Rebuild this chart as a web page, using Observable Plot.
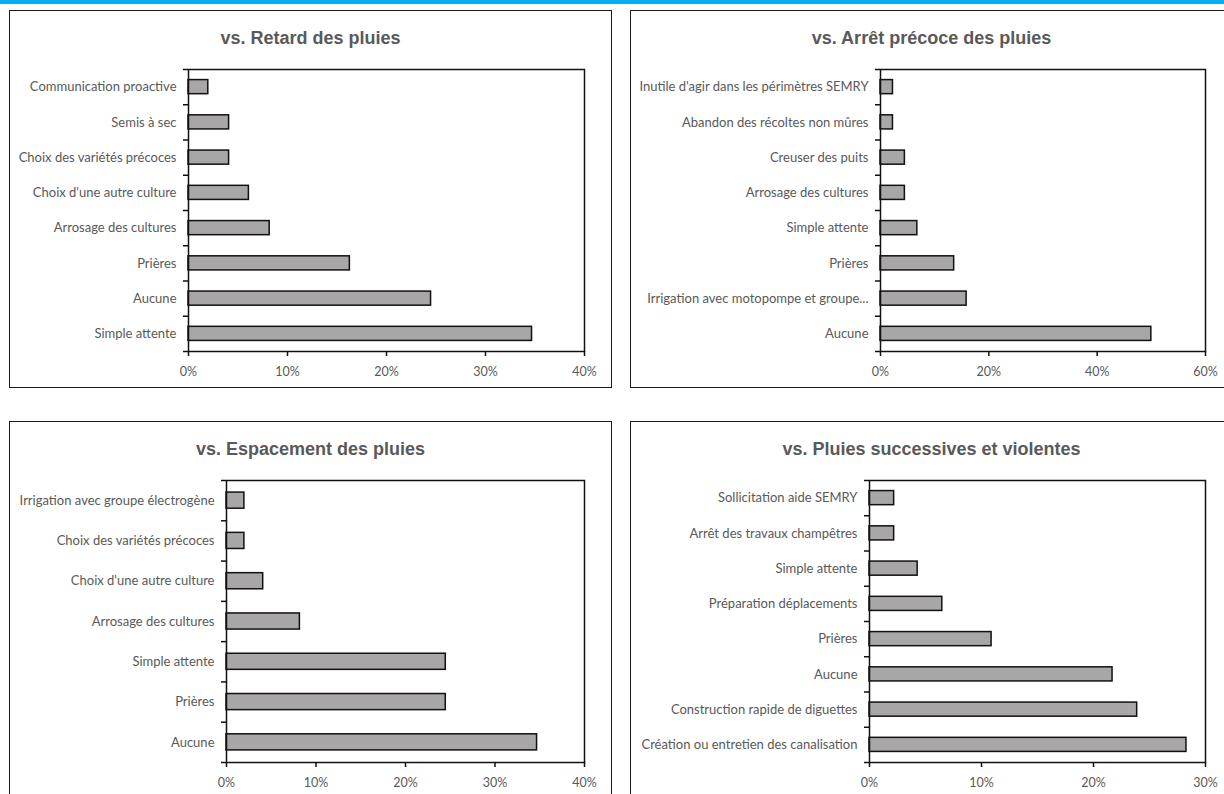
<!DOCTYPE html>
<html><head><meta charset="utf-8">
<script src="https://cdn.jsdelivr.net/npm/d3@7"></script>
<script src="https://cdn.jsdelivr.net/npm/@observablehq/plot@0.6"></script>
<style>
body{margin:0;background:#fff;width:1224px;height:794px;overflow:hidden;position:relative;font-family:Lato,sans-serif}
#topbar{position:absolute;left:0;top:0;width:1224px;height:4px;background:#00b0f0}
.panel{position:absolute;width:601px;height:376px;border:1.5px solid #1a1a1a;background:#fff}
.title{position:absolute;left:0;right:0;top:16px;line-height:22px;text-align:center;font-weight:bold;font-size:18px;font-family:"Liberation Sans Narrow","Arial Narrow","Liberation Sans",sans-serif;color:#595959;z-index:2}
.panel svg{position:absolute;left:0;top:0}
</style></head>
<body>
<div id="topbar"></div>
<div class="panel" id="p1" style="left:9px;top:10px"><div class="title">vs. Retard des pluies</div></div>
<div class="panel" id="p2" style="left:630px;top:10px"><div class="title">vs. Arrêt précoce des pluies</div></div>
<div class="panel" id="p3" style="left:9px;top:421px"><div class="title">vs. Espacement des pluies</div></div>
<div class="panel" id="p4" style="left:630px;top:421px"><div class="title">vs. Pluies successives et violentes</div></div>
<script>
// Panel 1: vs. Retard des pluies (top to bottom)
const retardCats = ["Communication proactive", "Semis à sec", "Choix des variétés précoces", "Choix d'une autre culture", "Arrosage des cultures", "Prières", "Aucune", "Simple attente"];
const retardVals = [2.0, 4.1, 4.1, 6.1, 8.2, 16.3, 24.5, 34.7];
const retardTicks = [0, 10, 20, 30, 40];

// Panel 2: vs. Arrêt précoce des pluies
const arretCats = ["Inutile d'agir dans les périmètres SEMRY", "Abandon des récoltes non mûres", "Creuser des puits", "Arrosage des cultures", "Simple attente", "Prières", "Irrigation avec motopompe et groupe...", "Aucune"];
const arretVals = [2.3, 2.3, 4.5, 4.5, 6.8, 13.6, 15.9, 50.0];
const arretTicks = [0, 20, 40, 60];

// Panel 3: vs. Espacement des pluies
const espCats = ["Irrigation avec groupe électrogène", "Choix des variétés précoces", "Choix d'une autre culture", "Arrosage des cultures", "Simple attente", "Prières", "Aucune"];
const espVals = [2.0, 2.0, 4.1, 8.2, 24.5, 24.5, 34.7];
const espTicks = [0, 10, 20, 30, 40];

// Panel 4: vs. Pluies successives et violentes
const pluiesCats = ["Sollicitation aide SEMRY", "Arrêt des travaux champêtres", "Simple attente", "Préparation déplacements", "Prières", "Aucune", "Construction rapide de diguettes", "Création ou entretien des canalisation"];
const pluiesVals = [2.2, 2.2, 4.3, 6.5, 10.9, 21.7, 23.9, 28.3];
const pluiesTicks = [0, 10, 20, 30];

function drawPanel(id, cats, vals, ticks, marginLeft) {
  const n = cats.length;
  const data = cats.map((c, i) => ({c, i, v: vals[i]}));
  const chart = Plot.plot({
    width: 601, height: 376,
    marginLeft, marginRight: 27, marginTop: 58, marginBottom: 36,
    style: {fontFamily: "Lato, sans-serif", fontSize: "13px", color: "#000", background: "transparent", overflow: "visible"},
    x: {domain: [ticks[0], ticks[ticks.length - 1]], axis: null, label: null},
    y: {domain: [n - 0.5, -0.5], axis: null, label: null},
    marks: [
      Plot.rect(data, {x1: 0, x2: "v", y1: d => d.i - 0.2, y2: d => d.i + 0.2, fill: "#a8a6a6", stroke: "#111", strokeWidth: 1.5}),
      Plot.frame({stroke: "#111", strokeWidth: 1.5}),
      Plot.axisY(d3.range(n), {tickSize: 0, tickPadding: 12, tickFormat: i => cats[i], fill: "#595959", fontSize: 13, label: null}),
      Plot.axisY(d3.range(n + 1).map(i => i - 0.5), {tickSize: 5, tickFormat: () => "", stroke: "#111", strokeWidth: 1.5, label: null}),
      Plot.axisX(ticks, {tickSize: 5, tickPadding: 11, tickFormat: d => d + "%", fill: "#595959", stroke: "#111", strokeWidth: 1.5, fontSize: 12.5, label: null})
    ]
  });
  document.getElementById(id).appendChild(chart);
}

drawPanel("p1", retardCats, retardVals, retardTicks, 178);
drawPanel("p2", arretCats, arretVals, arretTicks, 249);
drawPanel("p3", espCats, espVals, espTicks, 216);
drawPanel("p4", pluiesCats, pluiesVals, pluiesTicks, 238);
</script>
</body></html>
